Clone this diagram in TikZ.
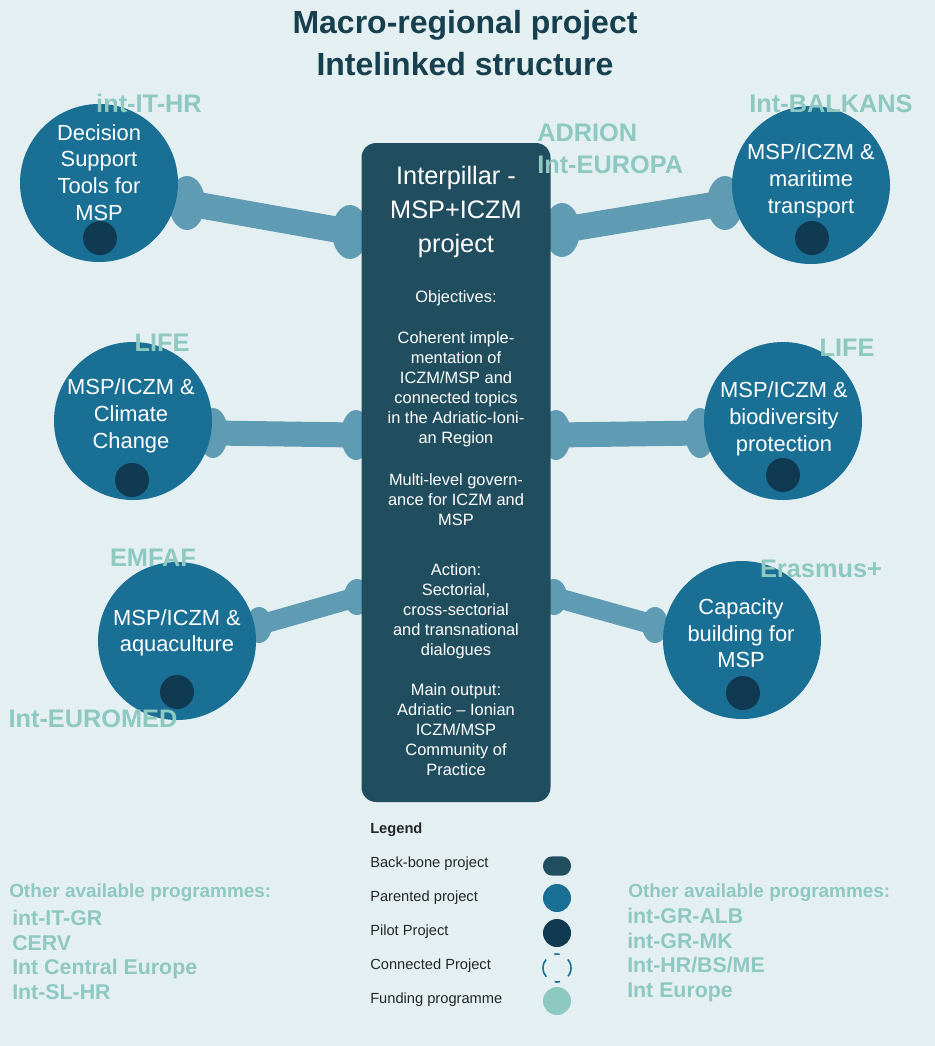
\documentclass[tikz,border=0pt]{standalone}
\usepackage{fontspec}
\setmainfont{Liberation Sans}
\usetikzlibrary{positioning, shapes.geometric}
\usepackage{xcolor}
\definecolor{bgcol}{HTML}{E4EFF2}
\definecolor{pillarcol}{HTML}{214E5F}
\definecolor{parentcol}{HTML}{1A6F95}
\definecolor{pilotcol}{HTML}{0F3A52}
\definecolor{linkcol}{HTML}{5F9BB3}
\definecolor{fundcol}{HTML}{8DC8C1}
\definecolor{titlecol}{HTML}{17404F}

\begin{document}
\begin{tikzpicture}[x=0.75pt, y=-0.75pt,
    parented/.style={circle, fill=parentcol, minimum size=118.5pt, inner sep=0pt},
    ptext/.style={text=white, align=center, inner sep=0pt, font=\fontsize{16.4}{20}\selectfont},
    pilot/.style={circle, fill=pilotcol, minimum size=25.5pt, inner sep=0pt},
    knob/.style={ellipse, fill=linkcol, minimum width=27pt, minimum height=40.5pt, inner sep=0pt},
    midknob/.style={knob, minimum width=22.5pt, minimum height=37.5pt},
    lowknob/.style={knob, minimum width=19.5pt, minimum height=27pt},
    bar/.style={draw=linkcol, line width=19.5pt},
    fund/.style={text=fundcol, inner sep=0pt, font=\fontsize{19}{22}\selectfont\bfseries},
    fundlist/.style={text=fundcol, inner sep=0pt, align=left, font=\fontsize{16}{18.5}\selectfont\bfseries},
    pilltext/.style={text=white, align=center, inner sep=0pt, font=\fontsize{12.3}{15}\selectfont},
    legtext/.style={anchor=west, inner sep=0pt, text=black!85, font=\fontsize{11}{13}\selectfont}]

    \fill[bgcol] (0,0) rectangle (935,1046);

    \node[text=titlecol, align=center, font=\fontsize{24}{31.5}\selectfont\bfseries] (title) at (465,43)
        {Macro-regional project\\Intelinked structure};

    \node[knob] (k1a) at (187,203) {};
    \node[knob] (k1b) at (350,232) {};
    \node[knob] (k2a) at (562,230) {};
    \node[knob] (k2b) at (725,203) {};
    \node[midknob] (k3a) at (213,433) {};
    \node[midknob] (k3b) at (356,435) {};
    \node[midknob] (k4a) at (556,435) {};
    \node[midknob] (k4b) at (700,433) {};
    \node[lowknob] (k5a) at (259,625) {};
    \node[lowknob] (k5b) at (357,597) {};
    \node[lowknob] (k6a) at (554,597) {};
    \node[lowknob] (k6b) at (655,625) {};

    \path[bar]
    (k1a.center) edge (k1b.center)
    (k2a.center) edge (k2b.center)
    (k3a.center) edge[line width=18.75pt] (k3b.center)
    (k4a.center) edge[line width=18.75pt] (k4b.center)
    (k5a.center) edge[line width=15pt] (k5b.center)
    (k6a.center) edge[line width=15pt] (k6b.center);

    \node[rounded corners=11pt, fill=pillarcol, minimum width=141.75pt, minimum height=494.25pt] (pillar) at (456,472.5) {};

    \node[pilltext, font=\fontsize{19}{25.5}\selectfont] (pillhead) at (456,212) {Interpillar -\\MSP+ICZM\\project};
    \node[pilltext] (objhead) at (456,298) {Objectives:};
    \node[pilltext] (obj1) at (456,389) {Coherent imple-\\mentation of\\ICZM/MSP and\\connected topics\\in the Adriatic-Ioni-\\an Region};
    \node[pilltext] (obj2) at (456,500) {Multi-level govern-\\ance for ICZM and\\MSP};
    \node[pilltext] (action) at (456,611) {Action:\\Sectorial,\\cross-sectorial\\and transnational\\dialogues};
    \node[pilltext] (output) at (456,730) {Main output:\\Adriatic -- Ionian\\ICZM/MSP\\Community of\\Practice};

    \node[parented] (dst) at (99,183) {};
    \node[parented] (trans) at (811,185) {};
    \node[parented] (clim) at (133,421) {};
    \node[parented] (bio) at (783,421) {};
    \node[parented] (aqua) at (177,641) {};
    \node[parented] (cap) at (742,640) {};

    \node[pilot] (dstp) at (100,238) {};
    \node[pilot] (transp) at (812,238) {};
    \node[pilot] (climp) at (132,480) {};
    \node[pilot] (biop) at (783,475) {};
    \node[pilot] (aquap) at (177,692) {};
    \node[pilot] (capp) at (743,693) {};

    \node[ptext] (dsttxt) at (99,172.5) {Decision\\Support\\Tools for\\MSP};
    \node[ptext] (transtxt) at (811,181) {MSP/ICZM \&\\maritime\\transport};
    \node[ptext] (climtxt) at (131,416) {MSP/ICZM \&\\Climate\\Change};
    \node[ptext] (biotxt) at (784,419) {MSP/ICZM \&\\biodiversity\\protection};
    \node[ptext] (aquatxt) at (177,633) {MSP/ICZM \&\\aquaculture};
    \node[ptext] (captxt) at (741,633.5) {Capacity\\building for\\MSP};

    \node[fund] (itahr) at (149,103) {int-IT-HR};
    \node[fund, anchor=west] (adrion) at (537,133) {ADRION};
    \node[fund, anchor=west] (europa) at (537,165) {Int-EUROPA};
    \node[fund] (balkans) at (831,104) {Int-BALKANS};
    \node[fund] (lifel) at (162,343) {LIFE};
    \node[fund] (lifer) at (847,348) {LIFE};
    \node[fund] (emfaf) at (153,558) {EMFAF};
    \node[fund] (erasmus) at (821,569) {Erasmus+};
    \node[fund] (euromed) at (93,719) {Int-EUROMED};

    \node[fund, anchor=west, font=\fontsize{14.2}{16}\selectfont\bfseries] (otherl) at (9,893) {Other available programmes:};
    \node[fundlist, anchor=west] (listl) at (12,955) {int-IT-GR\\CERV\\Int Central Europe\\Int-SL-HR};
    \node[fund, anchor=west, font=\fontsize{14.2}{16}\selectfont\bfseries] (otherr) at (628,893) {Other available programmes:};
    \node[fundlist, anchor=west] (listr) at (627,955) {int-GR-ALB\\int-GR-MK\\Int-HR/BS/ME\\Int Europe};

    \node[legtext, font=\fontsize{11}{13}\selectfont\bfseries] (legend) at (370,830) {Legend};
    \node[legtext] (lbackbone) at (370,864) {Back-bone project};
    \node[legtext] (lparent) at (370,898) {Parented project};
    \node[legtext] (lpilot) at (370,932) {Pilot Project};
    \node[legtext] (lconnect) at (370,966) {Connected Project};
    \node[legtext] (lfund) at (370,1000) {Funding programme};

    \node[rounded corners=7pt, fill=pillarcol, minimum width=21pt, minimum height=14.5pt, inner sep=0pt] (sbackbone) at (557,866) {};
    \node[circle, fill=parentcol, minimum size=21pt, inner sep=0pt] (sparent) at (557,898) {};
    \node[circle, fill=pilotcol, minimum size=21pt, inner sep=0pt] (spilot) at (557,933) {};
    \node[circle, draw=parentcol, line width=1.2pt, dash pattern=on 14pt off 7.5pt on 4pt off 7.5pt, dash phase=7pt, minimum size=21pt, inner sep=0pt] (sconnect) at (557,968) {};
    \node[circle, fill=fundcol, minimum size=21pt, inner sep=0pt] (sfund) at (557,1001) {};
\end{tikzpicture}
\end{document}
